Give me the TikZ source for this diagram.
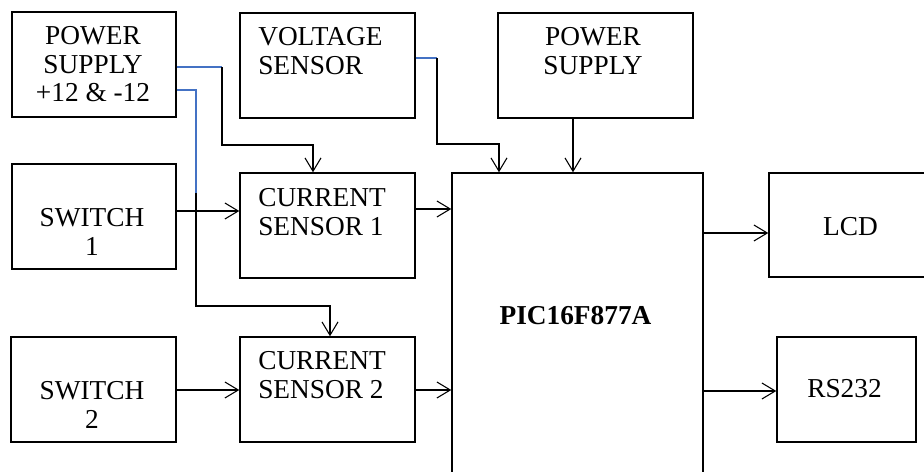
\documentclass[tikz,border=0pt]{standalone}
\usepackage{fontspec}
\setmainfont{Liberation Serif}
\usetikzlibrary{arrows.meta}
\definecolor{wireblue}{RGB}{68,114,196}

\begin{document}
\begin{tikzpicture}[x=0.75pt,y=-0.75pt,
  blk/.style={draw, line width=1.1pt, inner sep=0pt},
  txt/.style={inner sep=0pt, font=\fontsize{20.5}{21.5}\selectfont},
  arr/.style={line width=0.8pt, -{Straight Barb[length=10pt,width=12pt]}},
  wire/.style={line width=0.8pt, draw=wireblue}]
\clip (0,0) rectangle (924,471);
\fill[white] (0,0) rectangle (924,471);
\node[blk, minimum width=123pt, minimum height=78.75pt](PS1) at (94,64.5){};
\node[blk, minimum width=131.25pt, minimum height=78.75pt](VS) at (327.5,65.5){};
\node[blk, minimum width=123pt, minimum height=78.75pt](SW1) at (94,216.5){};
\node[blk, minimum width=131.25pt, minimum height=78.75pt](CS1) at (327.5,225.5){};
\node[blk, minimum width=123.75pt, minimum height=78.75pt](SW2) at (93.5,389.5){};
\node[blk, minimum width=131.25pt, minimum height=78.75pt](CS2) at (327.5,389.5){};
\node[blk, minimum width=188.25pt, minimum height=260.25pt](PIC) at (577.5,346.5){};
\node[blk, minimum width=146.25pt, minimum height=78.75pt](PS2) at (595.5,65.5){};
\node[blk, minimum width=128.25pt, minimum height=78pt](LCD) at (854.5,225){};
\node[blk, minimum width=104.25pt, minimum height=78.75pt](RS) at (846.5,389.5){};
\node[txt, align=center, anchor=north](PS1t) at (93,26){POWER\\SUPPLY\\+12 \& -12};
\node[txt, align=left, anchor=north west](VSt) at (258,27){VOLTAGE\\SENSOR};
\node[txt, align=center, anchor=north](SW1t) at (92,208){SWITCH\\1};
\node[txt, align=left, anchor=north west](CS1t) at (258,188){CURRENT\\SENSOR 1};
\node[txt, align=center, anchor=north](SW2t) at (92,381){SWITCH\\2};
\node[txt, align=left, anchor=north west](CS2t) at (258,351){CURRENT\\SENSOR 2};
\node[txt, align=center, anchor=north](PS2t) at (593,27){POWER\\SUPPLY};
\node[txt, anchor=north](LCDt) at (850.5,217){LCD};
\node[txt, anchor=north](RSt) at (844.5,379){RS232};
\node[txt, anchor=north, font=\fontsize{20.5}{21.5}\selectfont\bfseries](PICt) at (575.5,306){PIC16F877A};
\coordinate (a1) at (222,67);
\coordinate (a2) at (313,145);
\draw[wire] (PS1.east |- a1) -- (a1);
\draw[arr] (a1) |- (a2) -- (a2 |- CS1.north);
\coordinate (b1) at (196,90);
\coordinate (b2) at (196,193);
\coordinate (b3) at (330,306);
\draw[wire] (PS1.east |- b1) -- (b1) -- (b2);
\draw[arr] (b2) |- (b3) -- (b3 |- CS2.north);
\coordinate (c1) at (437,58);
\coordinate (c2) at (499,144);
\draw[wire] (VS.east |- c1) -- (c1);
\draw[arr] (c1) |- (c2) -- (c2 |- PIC.north);
\coordinate (d1) at (573,0);
\draw[arr] (PS2.south -| d1) -- (PIC.north -| d1);
\draw[arr] (SW1.east |- 0,211) -- (CS1.west |- 0,211);
\draw[arr] (CS1.east |- 0,209) -- (PIC.west |- 0,209);
\draw[arr] (SW2.east |- 0,390) -- (CS2.west |- 0,390);
\draw[arr] (CS2.east |- 0,390) -- (PIC.west |- 0,390);
\draw[arr] (PIC.east |- 0,233) -- (LCD.west |- 0,233);
\draw[arr] (PIC.east |- 0,391) -- (RS.west |- 0,391);
\end{tikzpicture}
\end{document}
